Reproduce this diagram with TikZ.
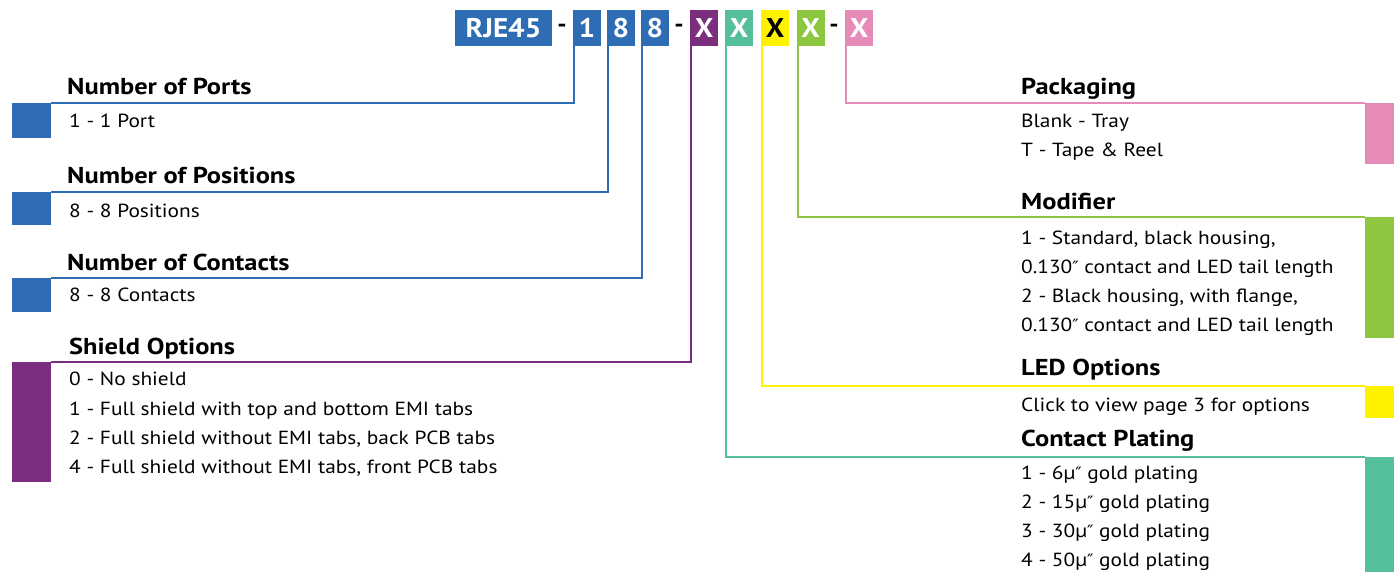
\documentclass[tikz,border=0pt]{standalone}
\usepackage{fontspec}
\setmainfont{PT Sans}
\newfontfamily\bodyf{PT Sans}[FakeStretch=1.125]
\newfontfamily\headf{PT Sans}[FakeStretch=1.15]
\newfontfamily\boxf{PT Sans}[FakeStretch=1.08]
\newfontfamily\primef{DejaVu Sans}
\newcommand{\dprime}{{\primef\fontsize{17}{17}\selectfont ″}}
\definecolor{cblue}{RGB}{46,108,180}
\definecolor{cpurple}{RGB}{124,46,126}
\definecolor{cteal}{RGB}{84,191,152}
\definecolor{cyellow}{RGB}{255,242,0}
\definecolor{cgreen}{RGB}{141,198,63}
\definecolor{cpink}{RGB}{230,138,184}
\tikzset{
  hbox/.style={inner sep=0pt, outer sep=0pt, minimum height=36pt, text=white,
    font=\boxf\fontsize{27}{27}\selectfont\bfseries},
  dashnode/.style={inner sep=0pt, font=\boxf\fontsize{24}{24}\selectfont\bfseries},
  sq/.style={inner sep=0pt, outer sep=0pt, anchor=north west, minimum width=39pt},
  sqr/.style={inner sep=0pt, outer sep=0pt, anchor=north east, minimum width=29pt},
  head/.style={inner sep=0pt, anchor=base west, font=\headf\fontsize{23}{23}\selectfont\bfseries},
  body/.style={inner sep=0pt, anchor=base west, font=\bodyf\fontsize{19}{19}\selectfont},
  conn/.style={line width=2pt},
}
\begin{document}
\begin{tikzpicture}[x=1pt,y=-1pt]
\useasboundingbox (0,0) rectangle (1394,572);
% header
\node[hbox, fill=cblue, minimum width=97pt] (rje) at (503.5,28) {RJE45};
\node[dashnode] (d1) at (562,28) {-};
\node[hbox, fill=cblue, minimum width=28pt] (b1) at (587,28) {1};
\node[hbox, fill=cblue, minimum width=28pt] (b2) at (621,28) {8};
\node[hbox, fill=cblue, minimum width=28pt] (b3) at (655,28) {8};
\node[dashnode] (d2) at (679,28) {-};
\node[hbox, fill=cpurple, minimum width=28pt] (xp) at (704,28) {X};
\node[hbox, fill=cteal, minimum width=28pt] (xt) at (739,28) {X};
\node[hbox, fill=cyellow, minimum width=28pt, text=black] (xy) at (775,28) {X};
\node[hbox, fill=cgreen, minimum width=28pt] (xg) at (810.5,28) {X};
\node[dashnode] (d3) at (834,28) {-};
\node[hbox, fill=cpink, minimum width=28pt] (xk) at (859,28) {X};

% left squares
\node[sq, fill=cblue, minimum height=35pt] (sqports) at (12,103) {};
\node[sq, fill=cblue, minimum height=33pt] (sqpos) at (12,192) {};
\node[sq, fill=cblue, minimum height=34pt] (sqcon) at (12,278) {};
\node[sq, fill=cpurple, minimum height=120pt] (sqshield) at (12,362) {};

% right squares
\node[sqr, fill=cpink, minimum height=61pt] (sqpack) at (1394,103) {};
\node[sqr, fill=cgreen, minimum height=121pt] (sqmod) at (1394,217) {};
\node[sqr, fill=cyellow, minimum height=32pt] (sqled) at (1394,386) {};
\node[sqr, fill=cteal, minimum height=115pt] (sqplat) at (1394,457) {};

% connectors
\draw[conn, cblue] ([xshift=1pt]b1.south west) |- (sqports.north east);
\draw[conn, cblue] ([xshift=1pt]b2.south west) |- (sqpos.north east);
\draw[conn, cblue] ([xshift=1pt]b3.south west) |- (sqcon.north east);
\draw[conn, cpurple] ([xshift=1pt]xp.south west) |- (sqshield.north east);
\draw[conn, cteal] ([xshift=1pt]xt.south west) |- (sqplat.north west);
\draw[conn, cyellow] ([xshift=1pt]xy.south west) |- (sqled.north west);
\draw[conn, cgreen] ([xshift=1pt]xg.south west) |- (sqmod.north west);
\draw[conn, cpink] ([xshift=1pt]xk.south west) |- (sqpack.north west);

% left texts
\node[head] (hports) at (67,95) {Number of Ports};
\node[body] (tports) at (69,128) {1 - 1 Port};
\node[head] (hpos) at (67,184) {Number of Positions};
\node[body] (tpos) at (69,217) {8 - 8 Positions};
\node[head] (hcon) at (67,270) {Number of Contacts};
\node[body] (tcon) at (69,301) {8 - 8 Contacts};
\node[head] (hshield) at (69,354) {Shield Options};
\node[body] (ts0) at (69,385) {0 - No shield};
\node[body] (ts1) at (69,415) {1 - Full shield with top and bottom EMI tabs};
\node[body] (ts2) at (69,444) {2 - Full shield without EMI tabs, back PCB tabs};
\node[body] (ts4) at (69,473) {4 - Full shield without EMI tabs, front PCB tabs};

% right texts
\node[head] (hpack) at (1021,95) {Packaging};
\node[body] (tp1) at (1021,128) {Blank - Tray};
\node[body] (tp2) at (1021,157) {T - Tape \& Reel};
\node[head] (hmod) at (1021,209) {Modifier};
\node[body] (tm1) at (1021,244) {1 - Standard, black housing,};
\node[body] (tm2) at (1021,273) {0.130\dprime{} contact and LED tail length};
\node[body] (tm3) at (1021,302) {2 - Black housing, with flange,};
\node[body] (tm4) at (1021,331) {0.130\dprime{} contact and LED tail length};
\node[head] (hled) at (1021,375) {LED Options};
\node[body] (tled) at (1021,411) {Click to view page 3 for options};
\node[head] (hplat) at (1021,446) {Contact Plating};
\node[body] (tc1) at (1021,479) {1 - 6µ\dprime{} gold plating};
\node[body] (tc2) at (1021,508) {2 - 15µ\dprime{} gold plating};
\node[body] (tc3) at (1021,537) {3 - 30µ\dprime{} gold plating};
\node[body] (tc4) at (1021,566) {4 - 50µ\dprime{} gold plating};
\end{tikzpicture}
\end{document}
